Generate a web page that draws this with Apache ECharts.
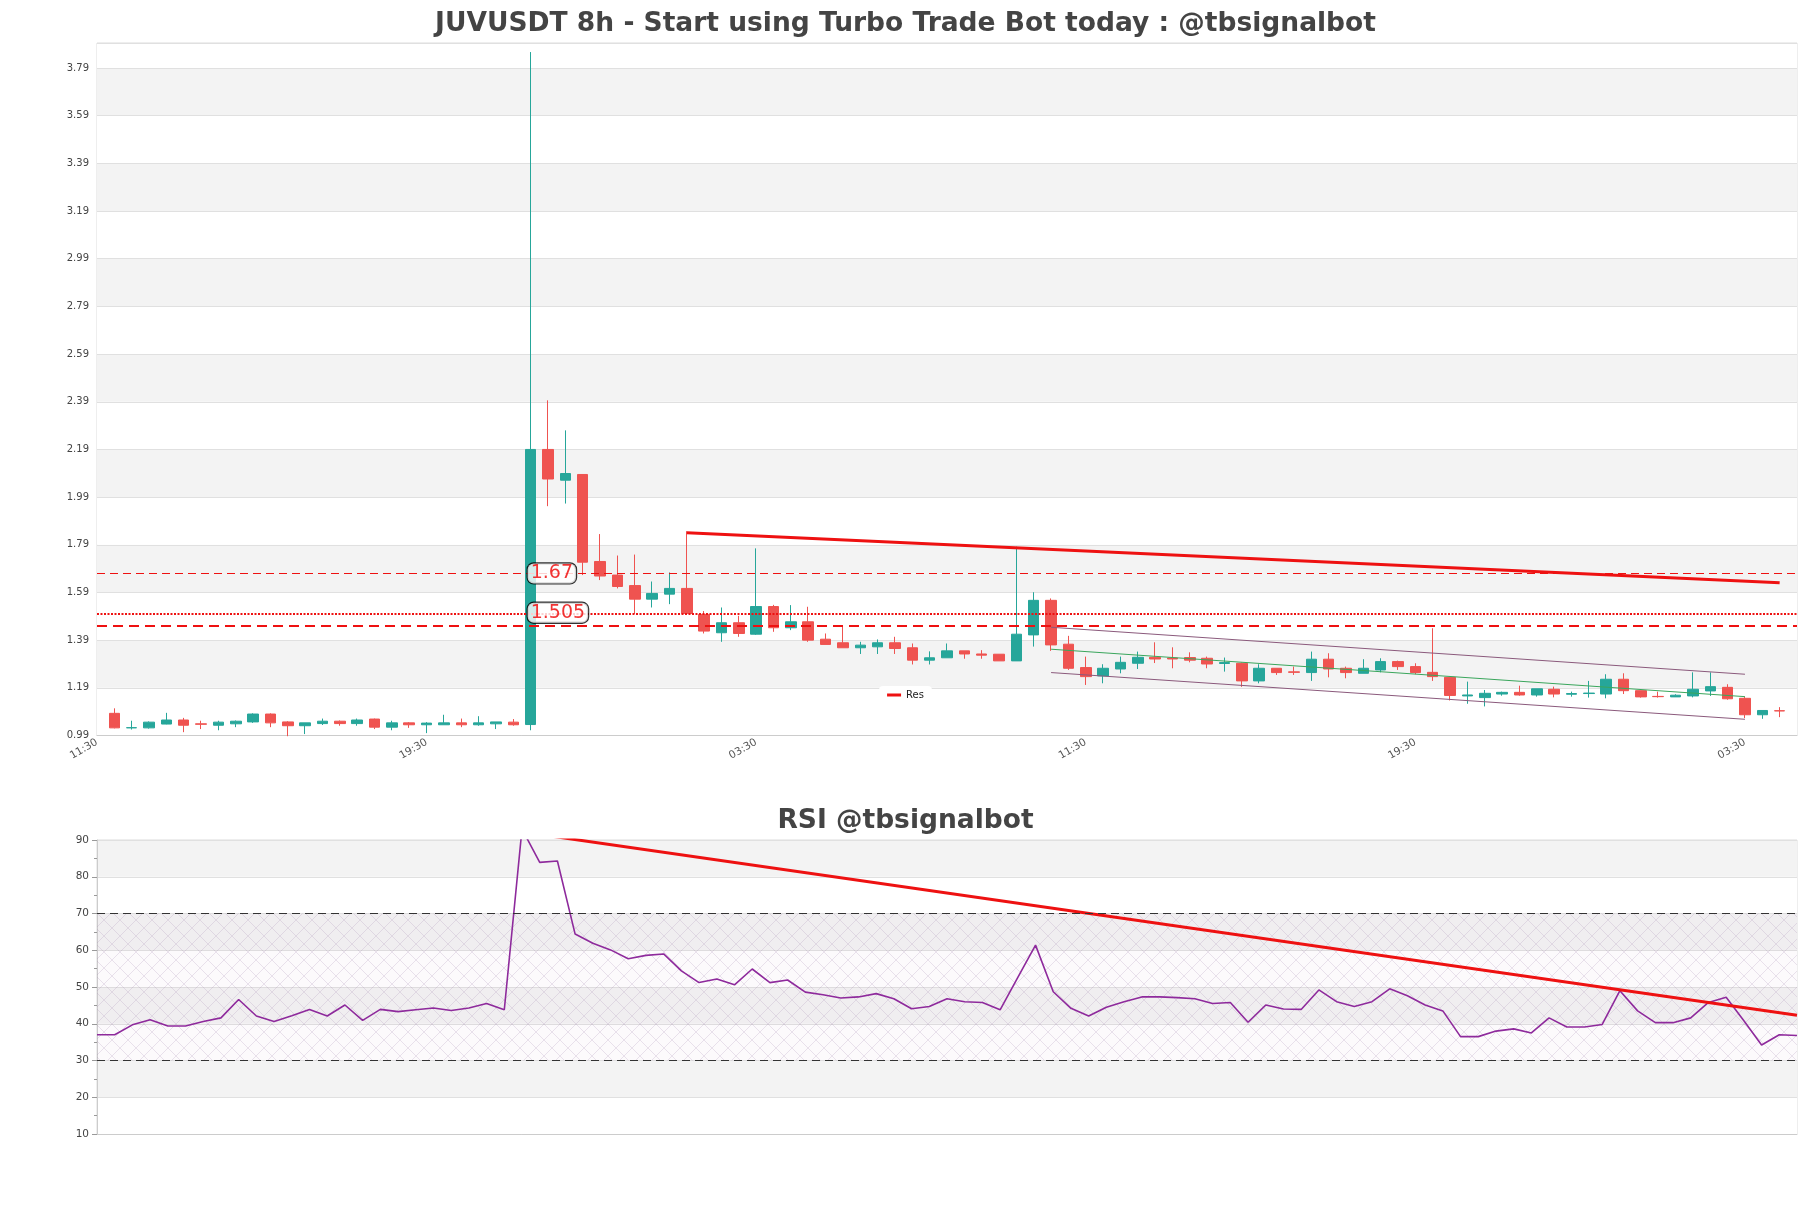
<!DOCTYPE html>
<html><head><meta charset="utf-8">
<script src="https://cdn.jsdelivr.net/npm/echarts@6/dist/echarts.min.js"></script>
<style>html,body{margin:0;padding:0;background:#fff}#c{width:1811px;height:1208px}</style>
</head><body><div id="c"></div>
<script>
// ---- x-axis tick labels (8h candles); position 0 and 98 are empty slots ----
const timeLabels = [
'11:30','19:30','03:30','11:30','19:30','03:30','11:30','19:30','03:30','11:30',
'19:30','03:30','11:30','19:30','03:30','11:30','19:30','03:30','11:30','19:30',
'03:30','11:30','19:30','03:30','11:30','19:30','03:30','11:30','19:30','03:30',
'11:30','19:30','03:30','11:30','19:30','03:30','11:30','19:30','03:30','11:30',
'19:30','03:30','11:30','19:30','03:30','11:30','19:30','03:30','11:30','19:30',
'03:30','11:30','19:30','03:30','11:30','19:30','03:30','11:30','19:30','03:30',
'11:30','19:30','03:30','11:30','19:30','03:30','11:30','19:30','03:30','11:30',
'19:30','03:30','11:30','19:30','03:30','11:30','19:30','03:30','11:30','19:30',
'03:30','11:30','19:30','03:30','11:30','19:30','03:30','11:30','19:30','03:30',
'11:30','19:30','03:30','11:30','19:30','03:30','11:30','19:30','03:30'];

// ---- candles (positions 1..97) ----
const opens = [1.083,1.022,1.022,1.038,1.055,1.039,1.033,1.039,1.047,1.080,
1.047,1.031,1.040,1.050,1.040,1.059,1.025,1.043,1.035,1.035,
1.043,1.035,1.039,1.046,1.036,2.190,2.061,2.085,1.720,1.663,
1.619,1.562,1.583,1.607,1.498,1.421,1.463,1.415,1.531,1.442,
1.467,1.394,1.379,1.358,1.362,1.379,1.358,1.306,1.316,1.345,
1.332,1.331,1.303,1.412,1.557,1.373,1.275,1.240,1.269,1.293,
1.318,1.315,1.317,1.314,1.292,1.293,1.219,1.272,1.257,1.254,
1.310,1.272,1.251,1.265,1.300,1.279,1.255,1.234,1.156,1.149,
1.164,1.171,1.160,1.184,1.163,1.166,1.164,1.226,1.178,1.154,
1.152,1.156,1.177,1.192,1.146,1.077,1.094];
const closes = [1.022,1.023,1.046,1.055,1.033,1.037,1.046,1.050,1.080,1.043,
1.031,1.043,1.050,1.040,1.055,1.025,1.043,1.035,1.042,1.043,
1.035,1.043,1.047,1.035,2.190,2.066,2.089,1.717,1.659,1.615,
1.562,1.586,1.607,1.502,1.428,1.463,1.418,1.531,1.442,1.467,
1.390,1.372,1.358,1.369,1.379,1.355,1.306,1.316,1.345,1.332,
1.327,1.303,1.415,1.557,1.370,1.272,1.237,1.272,1.297,1.318,
1.311,1.311,1.306,1.290,1.296,1.219,1.272,1.254,1.255,1.310,
1.269,1.254,1.272,1.300,1.279,1.254,1.237,1.158,1.160,1.167,
1.171,1.160,1.186,1.164,1.166,1.168,1.226,1.178,1.152,1.153,
1.159,1.184,1.195,1.144,1.077,1.095,1.093];
const lows = [1.020,1.015,1.019,1.037,1.004,1.017,1.012,1.025,1.043,1.025,
0.987,0.996,1.034,1.031,1.031,1.017,1.012,1.022,1.000,1.035,
1.025,1.031,1.017,1.031,1.012,1.952,1.963,1.663,1.642,1.607,
1.500,1.527,1.541,1.502,1.418,1.383,1.404,1.412,1.425,1.432,
1.383,1.372,1.358,1.332,1.332,1.332,1.288,1.288,1.316,1.312,
1.312,1.303,1.303,1.363,1.345,1.265,1.202,1.209,1.251,1.269,
1.294,1.272,1.297,1.272,1.258,1.194,1.209,1.244,1.244,1.219,
1.234,1.230,1.251,1.255,1.265,1.247,1.219,1.137,1.123,1.112,
1.157,1.157,1.153,1.150,1.153,1.149,1.146,1.164,1.149,1.149,
1.152,1.150,1.156,1.140,1.063,1.060,1.067];
const highs = [1.104,1.052,1.049,1.085,1.064,1.052,1.052,1.053,1.083,1.083,
1.050,1.043,1.061,1.053,1.061,1.061,1.052,1.046,1.046,1.077,
1.061,1.071,1.047,1.059,3.857,2.396,2.270,2.085,1.835,1.745,
1.749,1.636,1.674,1.847,1.512,1.527,1.492,1.775,1.538,1.537,
1.530,1.418,1.446,1.383,1.393,1.404,1.376,1.343,1.376,1.345,
1.348,1.331,1.782,1.591,1.565,1.408,1.321,1.289,1.321,1.342,
1.381,1.360,1.339,1.321,1.317,1.296,1.289,1.272,1.279,1.342,
1.335,1.279,1.310,1.314,1.304,1.293,1.440,1.234,1.216,1.181,
1.174,1.199,1.186,1.195,1.174,1.219,1.247,1.251,1.178,1.174,
1.163,1.255,1.255,1.205,1.153,1.095,1.109];
const firstCandlePos = 1;

// ---- levels & trend lines (price) ----
const levelValues = [1.67, 1.505, 1.453];
const labelAnchorPos = 25;
const resLine = [[34, 1.841], [97, 1.631]];
const channelUpper = [[55, 1.444], [95, 1.247]];
const channelMid = [[55, 1.352], [95, 1.153]];
const channelLower = [[55, 1.254], [95, 1.058]];

// ---- RSI ----
const rsiValues = [37.0,37.0,39.7,41.1,39.4,39.4,40.6,41.6,46.6,42.1,
40.6,42.2,43.9,42.1,45.1,40.9,43.9,43.3,43.8,44.3,
43.6,44.3,45.5,43.8,93.0,83.9,84.3,64.4,61.9,60.1,
57.7,58.6,59.0,54.4,51.2,52.2,50.6,54.9,51.2,51.9,
48.6,47.9,47.0,47.3,48.2,46.8,44.1,44.7,46.8,46.0,
45.8,43.8,52.6,61.4,48.7,44.2,42.1,44.5,46.0,47.3,
47.3,47.1,46.8,45.5,45.8,40.4,45.1,44.0,43.9,49.2,
46.0,44.7,46.0,49.5,47.6,45.1,43.5,36.5,36.5,38.0,
38.6,37.5,41.6,39.1,39.1,39.8,49.0,43.5,40.3,40.3,
41.6,45.8,47.2,40.8,34.2,37.0,36.8];
const rsiTrend = [[24, 92.2], [96, 42.3]];
const rsiBands = [70, 30];

// ---- build ----
const candleData = opens.map((o, i) => [i + firstCandlePos, o, closes[i], lows[i], highs[i]]);
const rsiLabels = timeLabels.slice(1, 1 + rsiValues.length);

const pc = document.createElement('canvas');
pc.width = 16; pc.height = 16;
const pctx = pc.getContext('2d');
pctx.fillStyle = 'rgba(190,160,205,0.05)';
pctx.fillRect(0, 0, 16, 16);
pctx.strokeStyle = 'rgba(150,120,165,0.25)';
pctx.lineWidth = 0.8;
pctx.beginPath();
pctx.moveTo(0, 0); pctx.lineTo(16, 16);
pctx.moveTo(16, 0); pctx.lineTo(0, 16);
pctx.stroke();

const RED = '#ee1111';
const UP = '#26a69a', DOWN = '#ef5350';
const FONT = 'DejaVu Sans';

const chart = echarts.init(document.getElementById('c'));
const lvlStyles = [
  {color: RED, width: 1.2, type: [8, 5]},
  {color: RED, width: 2, type: [2, 1.5]},
  {color: RED, width: 2, type: [10, 6]}
];

const option = {
  animation: false,
  backgroundColor: '#fff',
  textStyle: {fontFamily: FONT},
  title: [
    {text: 'JUVUSDT 8h - Start using Turbo Trade Bot today : @tbsignalbot', left: 'center', top: 6,
     textStyle: {fontSize: 26.5, fontWeight: 'bold', color: '#444', fontFamily: FONT}},
    {text: 'RSI @tbsignalbot', left: 'center', top: 803,
     textStyle: {fontSize: 26.5, fontWeight: 'bold', color: '#444', fontFamily: FONT}}
  ],
  legend: {
    data: ['Res'], left: 'center', top: 686, icon: 'rect', itemWidth: 14, itemHeight: 3,
    textStyle: {fontSize: 10, color: '#222', fontFamily: FONT},
    backgroundColor: '#fff', borderRadius: 4, padding: [4, 8]
  },
  grid: [
    {left: 97, right: 14, top: 43, height: 692.5, show: true, borderColor: '#ddd', backgroundColor: 'transparent'},
    {left: 97, right: 14, top: 840, height: 294, show: true, borderColor: '#ddd', backgroundColor: 'transparent'}
  ],
  xAxis: [
    {type: 'category', gridIndex: 0, data: timeLabels, boundaryGap: false,
     axisLine: {lineStyle: {color: '#ccc'}}, axisTick: {show: false},
     axisLabel: {interval: 18, rotate: 30, fontSize: 10.5, color: '#555', margin: 6},
     splitLine: {show: false}},
    {type: 'category', gridIndex: 1, data: rsiLabels, boundaryGap: false,
     axisLine: {lineStyle: {color: '#ccc'}}, axisTick: {show: false},
     axisLabel: {show: false}, splitLine: {show: false}}
  ],
  yAxis: [
    {type: 'value', gridIndex: 0, min: 0.99, max: 3.895, interval: 0.2,
     axisLine: {show: false}, axisTick: {show: false},
     axisLabel: {fontSize: 10, color: '#444', showMaxLabel: false, formatter: v => v.toFixed(2)},
     splitLine: {lineStyle: {color: '#e0e0e0'}},
     splitArea: {show: true, areaStyle: {color: ['#ffffff', '#f3f3f3']}}},
    {type: 'value', gridIndex: 1, min: 10, max: 90, interval: 10,
     axisLine: {show: true, lineStyle: {color: '#ccc'}},
     axisTick: {show: true, length: 5, lineStyle: {color: '#999'}},
     minorTick: {show: true, splitNumber: 2, length: 3, lineStyle: {color: '#999'}},
     axisLabel: {fontSize: 10.5, color: '#444'},
     splitLine: {lineStyle: {color: '#e0e0e0'}},
     splitArea: {show: true, areaStyle: {color: ['#ffffff', '#f3f3f3']}}}
  ],
  series: [
    {name: 'chanU', type: 'line', xAxisIndex: 0, yAxisIndex: 0, data: channelUpper, symbol: 'none', silent: true,
     lineStyle: {color: '#8b5a7c', width: 1}},
    {name: 'chanM', type: 'line', xAxisIndex: 0, yAxisIndex: 0, data: channelMid, symbol: 'none', silent: true,
     lineStyle: {color: '#3aa65c', width: 1}},
    {name: 'chanL', type: 'line', xAxisIndex: 0, yAxisIndex: 0, data: channelLower, symbol: 'none', silent: true,
     lineStyle: {color: '#8b5a7c', width: 1}},
    {name: 'price', type: 'candlestick', xAxisIndex: 0, yAxisIndex: 0, data: candleData,
     encode: {x: 0, y: [1, 2, 3, 4]}, barWidth: 11,
     itemStyle: {color: UP, color0: DOWN, borderColor: UP, borderColor0: DOWN, borderWidth: 1},
     markLine: {silent: true, symbol: ['none', 'none'], label: {show: false},
       data: levelValues.map((v, i) => ({yAxis: v, lineStyle: lvlStyles[i]}))}},
    {name: 'Res', type: 'line', xAxisIndex: 0, yAxisIndex: 0, data: resLine, symbol: 'none',
     itemStyle: {color: RED}, lineStyle: {color: RED, width: 3}},
    {name: 'lvlLabels', type: 'scatter', xAxisIndex: 0, yAxisIndex: 0, z: 10, symbolSize: 0, silent: true,
     data: levelValues.slice(0, 2).map(v => [labelAnchorPos, v]),
     label: {show: true, position: 'right', distance: 0, offset: [-3, 0],
       formatter: p => String(p.value[1]), color: '#ee0000', fontSize: 19, fontFamily: FONT,
       backgroundColor: '#fff', borderColor: '#000', borderWidth: 1.2, borderRadius: 6,
       padding: [1, 3], lineHeight: 18}},
    {name: 'RSI', type: 'line', xAxisIndex: 1, yAxisIndex: 1, data: rsiValues, symbol: 'none',
     lineStyle: {color: '#8e2a9c', width: 1.6}, itemStyle: {color: '#8e2a9c'},
     markLine: {silent: true, symbol: ['none', 'none'], label: {show: false},
       lineStyle: {color: '#333', type: [8, 5], width: 1.2},
       data: rsiBands.map(v => ({yAxis: v}))},
     markArea: {silent: true, itemStyle: {color: {image: pc, repeat: 'repeat'}},
       data: [[{yAxis: rsiBands[0]}, {yAxis: rsiBands[1]}]]}},
    {name: 'rsiTrend', type: 'line', xAxisIndex: 1, yAxisIndex: 1, data: rsiTrend, symbol: 'none', clip: true,
     lineStyle: {color: RED, width: 3}}
  ]
};
chart.setOption(option);
</script></body></html>
